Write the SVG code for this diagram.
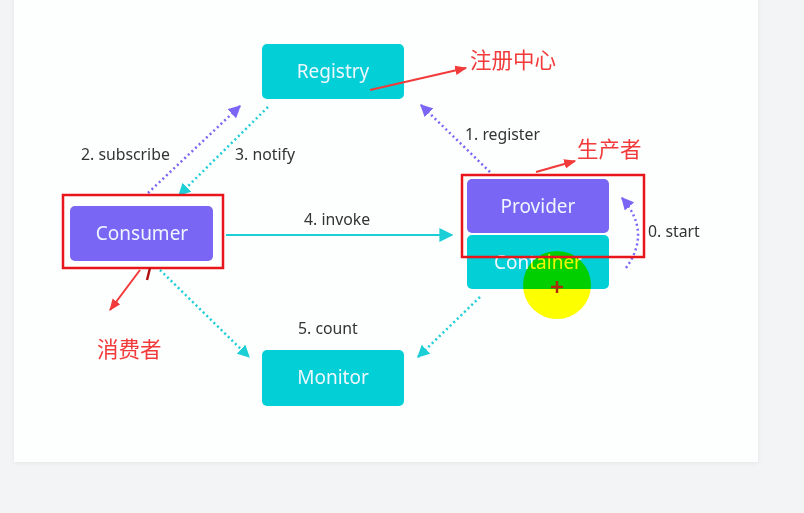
<svg xmlns="http://www.w3.org/2000/svg" width="804" height="513" viewBox="0 0 804 513">
<defs>
<style>
.cyan{fill:#02cfd6}
.purple{fill:#7a66f4}
.ntext{font-family:"Noto Sans","Liberation Sans",sans-serif;font-size:19px;fill:#eef6ff;text-anchor:middle}
.lbl{font-family:"Noto Sans","Liberation Sans",sans-serif;font-size:15.8px;fill:#333}
.red{font-family:"Liberation Sans","Noto Sans CJK SC",sans-serif;font-size:21.5px;fill:#f23a3a}
.dotp{fill:none;stroke:#7a66f4;stroke-width:2.5;stroke-dasharray:2 3}
.dotc{fill:none;stroke:#1ccfd6;stroke-width:2.5;stroke-dasharray:2 3}
.hl{fill:none;stroke:#e8161b;stroke-width:2.5}
.ra{fill:none;stroke:#f23a3a;stroke-width:2}
</style>
<marker id="ap" viewBox="0 0 10 10" refX="9" refY="5" markerWidth="5" markerHeight="5" orient="auto" markerUnits="strokeWidth"><path d="M0,0 L10,5 L0,10 z" fill="#7a66f4"/></marker>
<marker id="ac" viewBox="0 0 10 10" refX="9" refY="5" markerWidth="5" markerHeight="5" orient="auto" markerUnits="strokeWidth"><path d="M0,0 L10,5 L0,10 z" fill="#1ccfd6"/></marker>
<marker id="acs" viewBox="0 0 10 10" refX="9" refY="5" markerWidth="7" markerHeight="7" orient="auto" markerUnits="strokeWidth"><path d="M0,0 L10,5 L0,10 z" fill="#1ccfd6"/></marker>
<marker id="ar" viewBox="0 0 10 10" refX="9" refY="5" markerWidth="6" markerHeight="6" orient="auto" markerUnits="strokeWidth"><path d="M0,1 L10,5 L0,9 z" fill="#f23a3a"/></marker>
<filter id="sh" x="-5%" y="-5%" width="110%" height="110%"><feDropShadow dx="0" dy="1" stdDeviation="2" flood-color="#000" flood-opacity="0.06"/></filter>
</defs>
<rect x="0" y="0" width="804" height="513" fill="#f3f4f5"/>
<rect x="14" y="-10" width="744" height="472" fill="#fdfefe" filter="url(#sh)"/>

<g id="connectors">
<line class="dotp" x1="148" y1="193" x2="240" y2="106" marker-end="url(#ap)"/>
<line class="dotc" x1="268" y1="107" x2="179" y2="195" marker-end="url(#ac)"/>
<line class="dotp" x1="490" y1="172" x2="421" y2="105" marker-end="url(#ap)"/>
<line x1="226" y1="235" x2="452" y2="235" stroke="#1ccfd6" stroke-width="2" marker-end="url(#acs)"/>
<path class="dotp" d="M626,268 Q652,232 622,198" marker-end="url(#ap)"/>
<line class="dotc" x1="160" y1="270" x2="249" y2="357" marker-end="url(#ac)"/>
<line class="dotc" x1="480" y1="297" x2="418" y2="357" marker-end="url(#ac)"/>
<text class="lbl" x="81" y="160">2. subscribe</text>
<text class="lbl" x="235" y="160">3. notify</text>
<text class="lbl" x="465" y="140">1. register</text>
<text class="lbl" x="304" y="225">4. invoke</text>
<text class="lbl" x="648" y="237">0. start</text>
<text class="lbl" x="298" y="334">5. count</text>
</g>

<g id="registry"><rect class="cyan" x="262" y="44" width="142" height="55" rx="5"/><text class="ntext" x="333" y="78">Registry</text></g>
<g id="consumer"><rect class="purple" x="70" y="206" width="143" height="55" rx="5"/><text class="ntext" x="142" y="240">Consumer</text></g>
<g id="provider"><rect class="purple" x="467" y="179" width="142" height="54" rx="5"/><text class="ntext" x="538" y="213">Provider</text></g>
<g id="container"><rect class="cyan" x="467" y="235" width="142" height="54" rx="5"/><text class="ntext" x="538" y="269">Container</text></g>
<g id="monitor"><rect class="cyan" x="262" y="350" width="142" height="56" rx="5"/><text class="ntext" x="333" y="384">Monitor</text></g>

<g id="cursor">
<circle cx="557" cy="285" r="34" fill="#ffff00" style="mix-blend-mode:multiply"/>
<path d="M551,287 H563 M557,281 V293" stroke="#b02a10" stroke-width="2.5"/>
</g>

<g id="annotations">
<rect class="hl" x="63" y="195" width="160" height="73"/>
<rect class="hl" x="462" y="175" width="182" height="82"/>
<line class="ra" x1="370" y1="90" x2="466" y2="68" marker-end="url(#ar)"/>
<text class="red" x="470" y="68">注册中心</text>
<line class="ra" x1="536" y1="172" x2="575" y2="161" marker-end="url(#ar)"/>
<text class="red" x="577" y="157">生产者</text>
<line class="ra" x1="140" y1="270" x2="110" y2="310" marker-end="url(#ar)"/>
<line x1="150" y1="268" x2="147" y2="280" stroke="#b01010" stroke-width="2.5"/>
<text class="red" x="97" y="357">消费者</text>
</g>
</svg>
